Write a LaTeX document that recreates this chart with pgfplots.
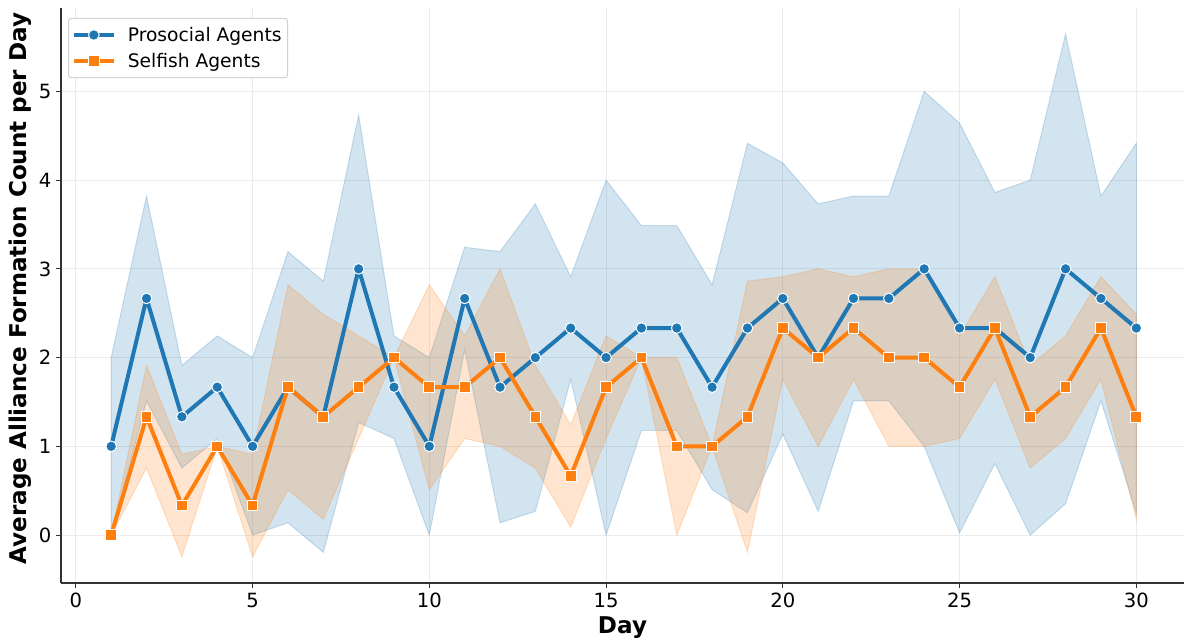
\documentclass[border=0pt]{standalone}
\usepackage{pgfplots}
\pgfplotsset{compat=1.18}
\usepgfplotslibrary{fillbetween}
\usepackage{pgfplotstable}
\usetikzlibrary{calc}
\usepackage{fontspec}
\setmainfont{DejaVu Sans}
\definecolor{tabblue}{HTML}{1F77B4}
\definecolor{taborange}{HTML}{FF7F0E}

\pgfplotstableread{
day pm plo phi sm slo shi
1 1.000 0.000 2.000 0.000 0.000 0.000
2 2.667 1.512 3.821 1.333 0.756 1.911
3 1.333 0.756 1.911 0.333 -0.244 0.911
4 1.667 1.089 2.244 1.000 1.000 1.000
5 1.000 0.000 2.000 0.333 -0.244 0.911
6 1.667 0.139 3.194 1.667 0.512 2.821
7 1.333 -0.194 2.861 1.333 0.179 2.488
8 3.000 1.268 4.732 1.667 1.089 2.244
9 1.667 1.089 2.244 2.000 2.000 2.000
10 1.000 0.000 2.000 1.667 0.512 2.821
11 2.667 2.089 3.244 1.667 1.089 2.244
12 1.667 0.139 3.194 2.000 1.000 3.000
13 2.000 0.268 3.732 1.333 0.756 1.911
14 2.333 1.756 2.911 0.667 0.089 1.244
15 2.000 0.000 4.000 1.667 1.089 2.244
16 2.333 1.179 3.488 2.000 2.000 2.000
17 2.333 1.179 3.488 1.000 0.000 2.000
18 1.667 0.512 2.821 1.000 1.000 1.000
19 2.333 0.252 4.415 1.333 -0.194 2.861
20 2.667 1.139 4.194 2.333 1.756 2.911
21 2.000 0.268 3.732 2.000 1.000 3.000
22 2.667 1.512 3.821 2.333 1.756 2.911
23 2.667 1.512 3.821 2.000 1.000 3.000
24 3.000 1.000 5.000 2.000 1.000 3.000
25 2.333 0.024 4.642 1.667 1.089 2.244
26 2.333 0.806 3.861 2.333 1.756 2.911
27 2.000 0.000 4.000 1.333 0.756 1.911
28 3.000 0.354 5.646 1.667 1.089 2.244
29 2.667 1.512 3.821 2.333 1.756 2.911
30 2.333 0.252 4.415 1.333 0.179 2.488
}\data

\begin{document}
\begin{tikzpicture}
\begin{axis}[
  scale only axis,
  width=842.25pt, height=431.25pt,
  xmin=-0.42, xmax=31.35, ymin=-0.54, ymax=5.94,
  axis x line*=bottom, axis y line*=left,
  axis line style={line width=0.95pt, color=black!80},
  xtick={0,5,...,30}, ytick={0,1,...,5},
  tick align=outside,
  major tick length=3.75pt,
  tick style={line width=0.8pt, color=black!80},
  grid=major,
  grid style={line width=0.6pt, color=black!8},
  /pgf/number format/assume math mode=true,
  tick label style={font=\fontsize{14.7}{16}\selectfont},
  xlabel={\bfseries Day},
  ylabel={\bfseries Average Alliance Formation Count per Day},
  label style={font=\fontsize{17.3}{19}\selectfont},
  ylabel style={at={(ticklabel cs:0.512)}, yshift=-1pt},
  legend style={at={(rel axis cs:0,1)}, anchor=north west, xshift=5.25pt, yshift=-7.5pt,
    draw=black!18, rounded corners=2pt, line width=0.75pt,
    font=\fontsize{14}{17}\selectfont, inner xsep=2.5pt, inner ysep=4.3pt,
    row sep=3.5pt},
  legend cell align=left,
  legend image code/.code={\draw[mark repeat=2,mark phase=2,#1] plot coordinates {(0pt,0pt) (15pt,0pt) (30pt,0pt)};
    \path (37pt,0pt);},
]
\coordinate (sw) at (rel axis cs:0,0);
\coordinate (ne) at (rel axis cs:1,1);
\addplot[name path=pU, draw=none, forget plot] table[x=day,y=phi]{\data};
\addplot[name path=pL, draw=none, forget plot] table[x=day,y=plo]{\data};
\addplot[fill=tabblue, fill opacity=0.2, draw=tabblue, draw opacity=0.22, line width=0.75pt, forget plot] fill between[of=pU and pL];
\addplot[name path=sU, draw=none, forget plot] table[x=day,y=shi]{\data};
\addplot[name path=sL, draw=none, forget plot] table[x=day,y=slo]{\data};
\addplot[fill=taborange, fill opacity=0.2, draw=taborange, draw opacity=0.22, line width=0.75pt, forget plot] fill between[of=sU and sL];
\addplot[tabblue, line width=3pt, line join=round, mark=*, mark size=4pt,
  mark options={fill=tabblue, draw=white, line width=0.75pt}] table[x=day,y=pm]{\data};
\addlegendentry{Prosocial Agents}
\addplot[taborange, line width=3pt, line join=round, mark=square*, mark size=4pt,
  mark options={fill=taborange, draw=white, line width=0.75pt}] table[x=day,y=sm]{\data};
\addlegendentry{Selfish Agents}
\end{axis}
\pgfresetboundingbox
\path[use as bounding box] ($(sw)+(-45.75pt,-44.25pt)$) rectangle ($(ne)+(0pt,6pt)$);
\end{tikzpicture}
\end{document}
